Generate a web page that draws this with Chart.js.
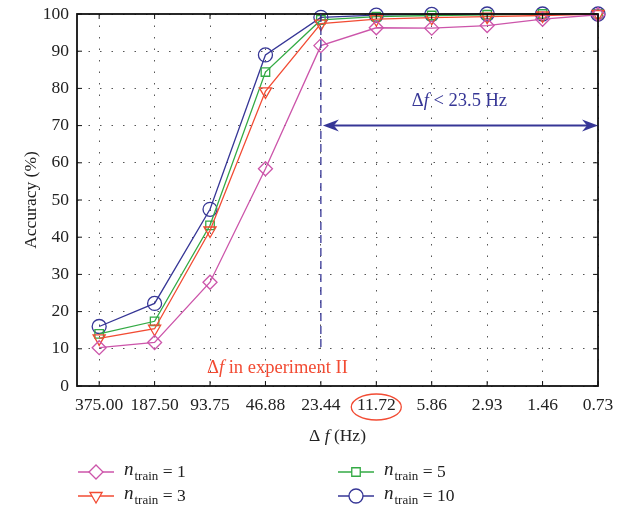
<!DOCTYPE html>
<html>
<head>
<meta charset="utf-8">
<script src="https://cdn.jsdelivr.net/npm/chart.js@4/dist/chart.umd.min.js"></script>
<style>
  html, body { margin: 0; padding: 0; background: #fff; }
  #wrap { width: 635px; height: 512px; }
</style>
</head>
<body>
<div id="wrap"><canvas id="accChart"></canvas></div>
<script>
const freqLabels = ['375.00', '187.50', '93.75', '46.88', '23.44', '11.72', '5.86', '2.93', '1.46', '0.73'];
const acc1 = [10.3, 11.7, 27.9, 58.4, 91.5, 96.3, 96.2, 96.9, 98.6, 99.8];
const acc3 = [12.8, 15.4, 41.8, 79.2, 97.4, 98.6, 99.0, 99.3, 99.6, 100];
const acc5 = [14.0, 17.4, 43.2, 84.4, 98.4, 99.3, 99.6, 99.8, 100, 100];
const acc10 = [16.0, 22.2, 47.5, 89.0, 99.1, 99.7, 99.9, 100, 100, 100];
const yTicks = [0, 10, 20, 30, 40, 50, 60, 70, 80, 90, 100];

// annotation values (index on x, accuracy on y)
const cutIndex = 4;
const cutLineBottom = 9.5;
const arrowLevel = 70;
const serif = '"Liberation Serif", "DejaVu Serif", serif';

const blue = '#363696';
const red = '#f24b33';
const magenta = '#cc55aa';
const green = '#33aa44';

const seriesInfo = [
    { n: '1', color: magenta, style: 'rectRot', rot: 0 },
    { n: '3', color: red, style: 'triangle', rot: 180 },
    { n: '5', color: green, style: 'rect', rot: 0 },
    { n: '10', color: blue, style: 'circle', rot: 0 }
];

function toPoints(arr) {
    return arr.map((v, i) => ({ x: i, y: v }));
}

function makeSet(arr, info) {
    return {
        data: toPoints(arr),
        borderColor: info.color,
        borderWidth: 1.3,
        pointStyle: info.style,
        rotation: info.rot,
        pointRadius: info.style === 'rect' ? 6 : 7,
        pointBorderWidth: 1.3,
        pointBorderColor: info.color,
        pointBackgroundColor: 'rgba(0,0,0,0)',
        tension: 0,
        clip: 10
    };
}

const framePlugin = {
    id: 'frame',
    afterDatasetsDraw(chart) {
        const { ctx, chartArea: a, scales } = chart;
        const xs = scales.x, ys = scales.y;
        ctx.save();

        // box and inward ticks
        ctx.strokeStyle = '#111';
        ctx.lineWidth = 1.8;
        ctx.strokeRect(a.left, a.top, a.right - a.left, a.bottom - a.top);
        ctx.lineWidth = 1;
        ctx.beginPath();
        freqLabels.forEach((_, i) => {
            const x = xs.getPixelForValue(i);
            ctx.moveTo(x, a.bottom); ctx.lineTo(x, a.bottom - 5);
            ctx.moveTo(x, a.top); ctx.lineTo(x, a.top + 5);
        });
        yTicks.forEach(v => {
            const y = ys.getPixelForValue(v);
            ctx.moveTo(a.left, y); ctx.lineTo(a.left + 5, y);
            ctx.moveTo(a.right, y); ctx.lineTo(a.right - 5, y);
        });
        ctx.stroke();

        // dashed vertical line
        const cx = xs.getPixelForValue(cutIndex);
        ctx.strokeStyle = blue;
        ctx.lineWidth = 1.3;
        ctx.setLineDash([8, 5]);
        ctx.beginPath();
        ctx.moveTo(cx, ys.getPixelForValue(100));
        ctx.lineTo(cx, ys.getPixelForValue(cutLineBottom));
        ctx.stroke();
        ctx.setLineDash([]);

        // double arrow
        const ay = ys.getPixelForValue(arrowLevel);
        const x0 = cx + 2, x1 = xs.getPixelForValue(freqLabels.length - 1);
        ctx.lineWidth = 2;
        ctx.beginPath();
        ctx.moveTo(x0 + 8, ay); ctx.lineTo(x1 - 8, ay);
        ctx.stroke();
        ctx.fillStyle = blue;
        const head = (tip, dir) => {
            ctx.beginPath();
            ctx.moveTo(tip, ay);
            ctx.lineTo(tip + dir * 16, ay - 6);
            ctx.lineTo(tip + dir * 11, ay);
            ctx.lineTo(tip + dir * 16, ay + 6);
            ctx.closePath();
            ctx.fill();
        };
        head(x0, 1);
        head(x1, -1);

        // texts
        const drawMixed = (parts, x, y, align) => {
            let total = 0;
            parts.forEach(p => { ctx.font = p.font; total += ctx.measureText(p.t).width; });
            let sx = align === 'center' ? x - total / 2 : (align === 'right' ? x - total : x);
            ctx.textAlign = 'left';
            ctx.textBaseline = 'middle';
            parts.forEach(p => {
                ctx.font = p.font;
                ctx.fillText(p.t, sx, y);
                sx += ctx.measureText(p.t).width;
            });
        };
        ctx.fillStyle = blue;
        drawMixed([
            { t: 'Δ', font: '18.5px ' + serif },
            { t: 'f', font: 'italic 18.5px ' + serif },
            { t: ' < 23.5 Hz', font: '18.5px ' + serif }
        ], (cx + x1) / 2, ys.getPixelForValue(76.6), 'center');

        ctx.fillStyle = red;
        drawMixed([
            { t: 'Δ', font: '18.5px ' + serif },
            { t: 'f', font: 'italic 18.5px ' + serif },
            { t: ' in experiment II', font: '18.5px ' + serif }
        ], cx + 27, ys.getPixelForValue(4.8), 'right');

        // ellipse around 11.72
        ctx.strokeStyle = red;
        ctx.lineWidth = 1.3;
        ctx.beginPath();
        ctx.ellipse(xs.getPixelForValue(5), a.bottom + 21, 25, 13, 0, 0, Math.PI * 2);
        ctx.stroke();

        // x axis title
        ctx.fillStyle = '#222';
        drawMixed([
            { t: 'Δ ', font: '17.5px ' + serif },
            { t: 'f', font: 'italic 17.5px ' + serif },
            { t: ' (Hz)', font: '17.5px ' + serif }
        ], (a.left + a.right) / 2, a.bottom + 50, 'center');

        // legend
        const rows = [a.bottom + 86, a.bottom + 110];
        const cols = [78, 338];
        const order = [[0, 0, 0], [1, 0, 1], [2, 1, 0], [3, 1, 1]];
        order.forEach(([si, c, r]) => {
            const info = seriesInfo[si];
            const lx = cols[c], ly = rows[r];
            ctx.strokeStyle = info.color;
            ctx.lineWidth = 1.3;
            ctx.beginPath();
            ctx.moveTo(lx, ly); ctx.lineTo(lx + 36, ly);
            ctx.stroke();
            ctx.fillStyle = '#fff';
            Chart.helpers.drawPoint(ctx, {
                pointStyle: info.style,
                rotation: info.rot,
                radius: info.style === 'rect' ? 6 : 7,
                borderWidth: 1.3
            }, lx + 18, ly);
            ctx.fillStyle = '#222';
            const tx = lx + 46;
            ctx.textAlign = 'left';
            ctx.textBaseline = 'middle';
            ctx.font = 'italic 19px ' + serif;
            ctx.fillText('n', tx, ly - 2);
            const nw = ctx.measureText('n').width;
            ctx.font = '13px ' + serif;
            ctx.fillText('train', tx + nw + 1, ly + 5);
            const sw = ctx.measureText('train').width;
            ctx.font = '17.5px ' + serif;
            ctx.fillText(' = ' + info.n, tx + nw + 1 + sw, ly);
        });
        ctx.restore();
    }
};

const gridStyle = { color: '#555', lineWidth: 1, drawTicks: false };

new Chart(document.getElementById('accChart').getContext('2d'), {
    type: 'line',
    data: {
        datasets: [
            makeSet(acc1, seriesInfo[0]),
            makeSet(acc3, seriesInfo[1]),
            makeSet(acc5, seriesInfo[2]),
            makeSet(acc10, seriesInfo[3])
        ]
    },
    options: {
        responsive: true,
        maintainAspectRatio: false,
        animation: false,
        layout: { autoPadding: false, padding: { top: 14, right: 37, left: 21, bottom: 0 } },
        plugins: { legend: { display: false }, tooltip: { enabled: false } },
        scales: {
            x: {
                type: 'linear',
                min: -0.4,
                max: 9,
                afterBuildTicks: s => { s.ticks = freqLabels.map((_, i) => ({ value: i })); },
                afterFit: s => { s.height = 126; },
                ticks: {
                    callback: v => freqLabels[v],
                    color: '#222',
                    font: { family: serif, size: 17.5 },
                    maxRotation: 0,
                    autoSkip: false,
                    padding: 9
                },
                grid: gridStyle,
                border: { display: false, dash: [1.5, 10] }
            },
            y: {
                min: 0,
                max: 100,
                afterBuildTicks: s => { s.ticks = yTicks.map(v => ({ value: v })); },
                afterFit: s => { s.width = 56; s.paddingTop = 0; s.paddingBottom = 0; },
                ticks: {
                    color: '#222',
                    font: { family: serif, size: 17.5 },
                    padding: 8
                },
                title: {
                    display: true,
                    text: 'Accuracy (%)',
                    color: '#222',
                    font: { family: serif, size: 17.5 },
                    padding: { top: 0, bottom: 2 }
                },
                grid: gridStyle,
                border: { display: false, dash: [1.5, 10] }
            }
        }
    },
    plugins: [framePlugin]
});
</script>
</body>
</html>
